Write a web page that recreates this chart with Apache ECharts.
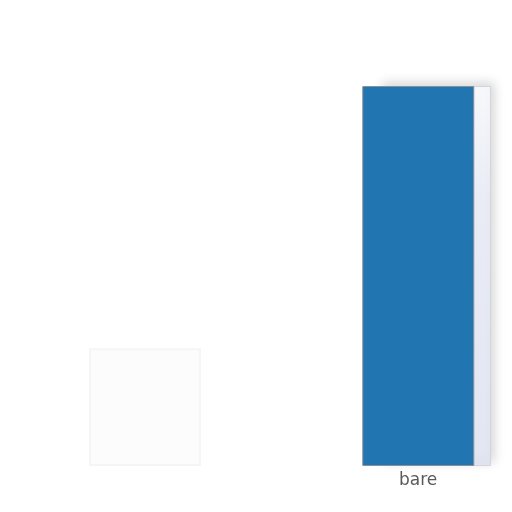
<!DOCTYPE html>
<html>
  <head>
    <meta charset="utf-8" />
    <title>ECharts</title>
    <script src="https://cdn.jsdelivr.net/npm/echarts@6/dist/echarts.min.js"></script>
  </head>

  <body style="margin: 0">
    <div id="main" style="width: 512px; height: 512px"></div>
    <script type="text/javascript">
      var myChart = echarts.init(document.getElementById("main"));

      // categories and values
      const categories = ["", " ", "bare"];
      const barValues = [31, null, 100];
      const sideValues = [null, null, 100];

      option = {
        animation: false,
        backgroundColor: "#ffffff",
        grid: {
          left: 85,
          right: 17,
          top: 86,
          bottom: 46,
        },
        xAxis: {
          type: "category",
          data: categories,
          axisLine: { show: false },
          axisTick: { show: false },
          axisLabel: {
            margin: 6,
            padding: [0, 17, 0, 0],
            color: "#5a5a5a",
            fontSize: 17,
            fontFamily: "DejaVu Sans",
          },
        },
        yAxis: {
          type: "value",
          min: 0,
          max: 100,
          show: false,
          splitLine: { show: false },
        },
        series: [
          {
            type: "bar",
            data: barValues.map(function (v, i) {
              if (i === 0) {
                return {
                  value: v,
                  itemStyle: {
                    color: "#fcfcfc",
                    borderColor: "#f5f5f5",
                    borderWidth: 2,
                  },
                };
              }
              return v;
            }),
            barWidth: 112,
            barGap: "-85%",
            z: 3,
            itemStyle: {
              color: "#2176b1",
              borderColor: "#8a8f98",
              borderWidth: 1,
            },
          },
          {
            type: "bar",
            data: sideValues,
            barWidth: 112,
            z: 2,
            itemStyle: {
              color: new echarts.graphic.LinearGradient(0, 0, 0, 1, [
                { offset: 0, color: "#f7f8fb" },
                { offset: 0.3, color: "#e9ecf5" },
                { offset: 1, color: "#e2e6f3" },
              ]),
              borderColor: "#d2d5dc",
              borderWidth: 1,
              shadowBlur: 10,
              shadowOffsetX: 3,
              shadowOffsetY: -4,
              shadowColor: "rgba(0,0,0,0.15)",
            },
          },
        ],
      };

      myChart.setOption(option);
    </script>
  </body>
</html>
